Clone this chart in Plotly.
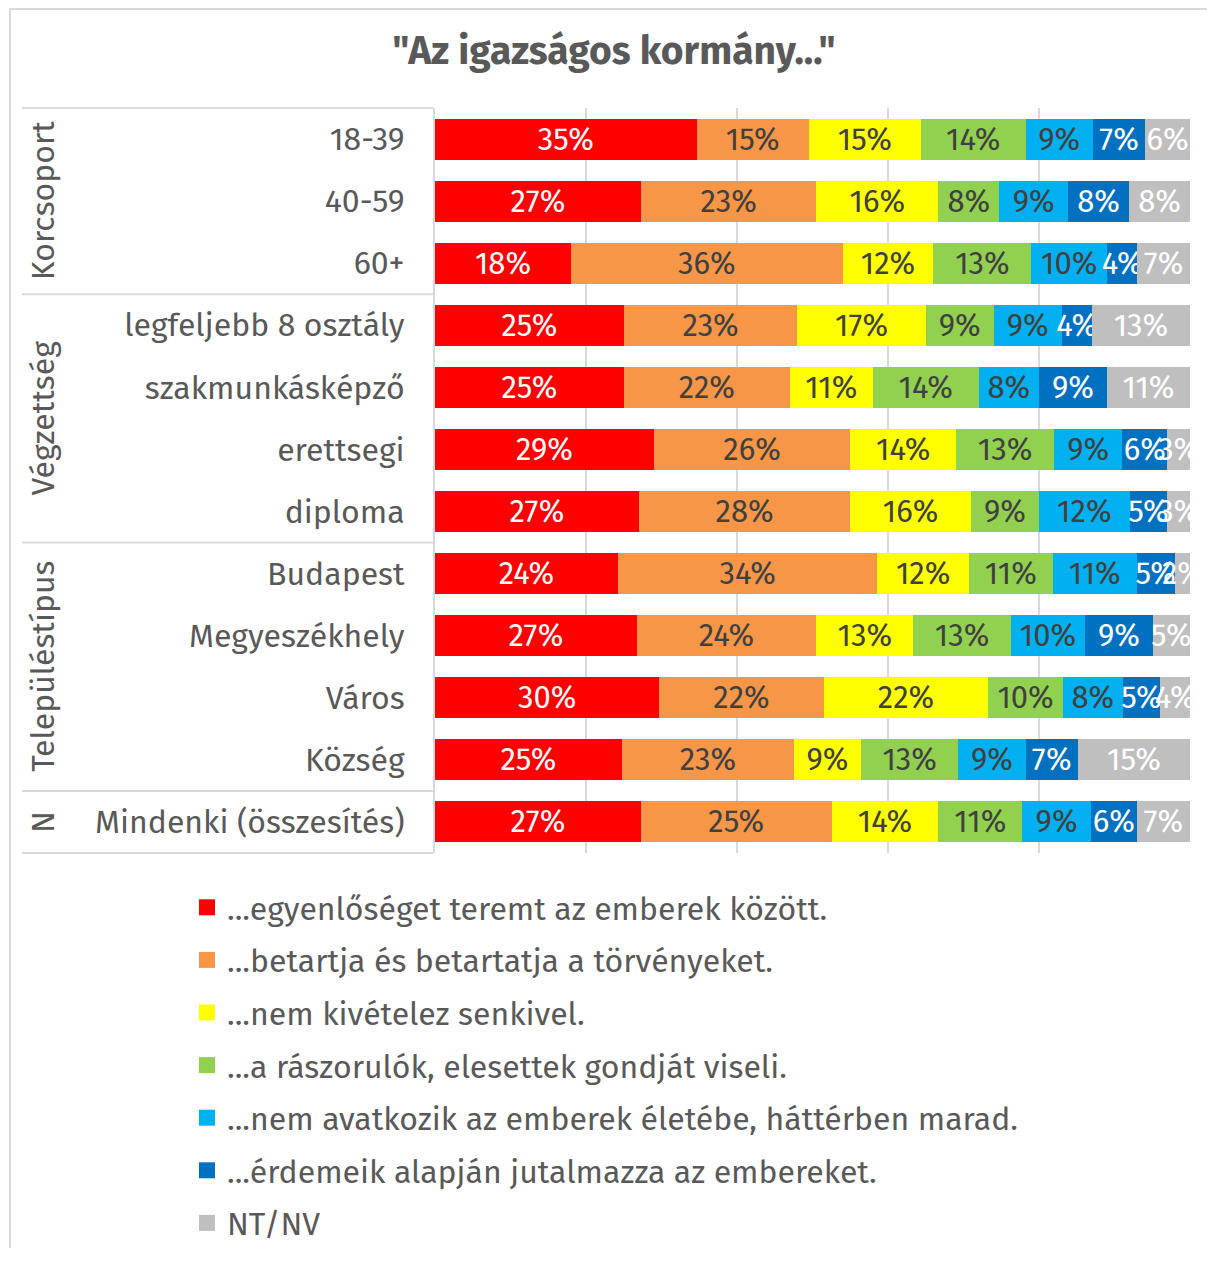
import plotly.graph_objects as go

categories = ["18-39", "40-59", "60+", "legfeljebb 8 osztály", "szakmunkásképző",
              "erettsegi", "diploma", "Budapest", "Megyeszékhely", "Város", "Község",
              "Mindenki (összesítés)"]
groups = ["Korcsoport", "Végzettség", "Településtípus", "N"]
group_sizes = [3, 4, 4, 1]

series_names = ["...egyenlőséget teremt az emberek között.",
                "...betartja és betartatja a törvényeket.",
                "...nem kivételez senkivel.",
                "...a rászorulók, elesettek gondját viseli.",
                "...nem avatkozik az emberek életébe, háttérben marad.",
                "...érdemeik alapján jutalmazza az embereket.",
                "NT/NV"]

s_egyenloseg = [35, 27, 18, 25, 25, 29, 27, 24, 27, 30, 25, 27]
s_torveny    = [15, 23, 36, 23, 22, 26, 28, 34, 24, 22, 23, 25]
s_kivetel    = [15, 16, 12, 17, 11, 14, 16, 12, 13, 22, 9, 14]
s_raszorulo  = [14, 8, 13, 9, 14, 13, 9, 11, 13, 10, 13, 11]
s_nemavatk   = [9, 9, 10, 9, 8, 9, 12, 11, 10, 8, 9, 9]
s_erdem      = [7, 8, 4, 4, 9, 6, 5, 5, 9, 5, 7, 6]
s_ntnv       = [6, 8, 7, 13, 11, 3, 3, 2, 5, 4, 15, 7]

series_values = [s_egyenloseg, s_torveny, s_kivetel, s_raszorulo, s_nemavatk, s_erdem, s_ntnv]
colors = ["#FF0000", "#F79646", "#FFFF00", "#92D050", "#00B0F0", "#0070C0", "#BFBFBF"]
text_colors = ["#FFFFFF", "#404040", "#404040", "#404040", "#404040", "#FFFFFF", "#FFFFFF"]

OFF = 8  # default page body margin
W, H = 1199, 1240
ML, MT = 427, 100
MR = W - (1190 - OFF)
MB = H - (853 - OFF)
PW = W - ML - MR
PH = H - MT - MB
FONT = "Fira Sans, Noto Sans, sans-serif"
GRID = "#D9D9D9"
LABEL = "#595959"

def px_to_paper_x(px):
    return (px - OFF - ML) / PW

def px_to_paper_y(py):
    return (H - MB - (py - OFF)) / PH

fig = go.Figure()
for name, vals, col, tc in zip(series_names, series_values, colors, text_colors):
    fig.add_trace(go.Bar(
        y=categories, x=vals, name=name, orientation="h",
        marker=dict(color=col, line=dict(width=0)),
        text=[f"{v}%" for v in vals], textposition="inside",
        insidetextanchor="middle", textangle=0, constraintext="none",
        textfont=dict(family=FONT, size=31, color=tc),
        legendgroup=name, showlegend=False, hoverinfo="skip",
    ))
# legend entries (larger square swatches)
for name, col in zip(series_names, colors):
    fig.add_trace(go.Scatter(
        x=[None], y=[None], mode="markers", name=name, legendgroup=name,
        marker=dict(symbol="square", size=18, color=col), hoverinfo="skip",
    ))

n = len(categories)
shapes = []
# outer chart border
shapes.append(dict(type="rect", xref="paper", yref="paper",
                   x0=px_to_paper_x(10), x1=px_to_paper_x(1260),
                   y0=px_to_paper_y(1300), y1=px_to_paper_y(9),
                   line=dict(color=GRID, width=2), fillcolor="rgba(0,0,0,0)", layer="below"))
# group separators
boundaries = [0]
for s in group_sizes:
    boundaries.append(boundaries[-1] + s)
for b in boundaries:
    yy = 1 - b / n
    shapes.append(dict(type="line", xref="paper", yref="paper",
                       x0=px_to_paper_x(22), x1=px_to_paper_x(433), y0=yy, y1=yy,
                       line=dict(color=GRID, width=2)))

annotations = []
for g, a, b in zip(groups, boundaries[:-1], boundaries[1:]):
    annotations.append(dict(text=g, xref="paper", yref="paper",
                            x=px_to_paper_x(43), y=1 - (a + b) / 2 / n,
                            textangle=-90, showarrow=False,
                            font=dict(family=FONT, size=32, color=LABEL),
                            xanchor="center", yanchor="middle"))

fig.update_layout(
    width=W, height=H,
    margin=dict(l=ML, r=MR, t=MT, b=MB, autoexpand=False),
    paper_bgcolor="white", plot_bgcolor="white",
    barmode="stack", barnorm="percent", bargap=0.34,
    title=dict(text='"Az igazságos kormány..."', x=(614 - OFF) / W, xanchor="center",
               xref="container", yref="container", y=1 - (50 - OFF) / H, yanchor="middle",
               font=dict(family=FONT, size=39, color=LABEL, weight="bold")),
    xaxis=dict(range=[0, 100], dtick=20, showgrid=True, gridcolor=GRID, gridwidth=2,
               showticklabels=False, zeroline=False, showline=False, fixedrange=True),
    yaxis=dict(autorange="reversed", showline=True, linecolor=GRID, linewidth=2,
               ticks="", ticklabelstandoff=22,
               tickfont=dict(family=FONT, size=32, color=LABEL)),
    legend=dict(orientation="v", traceorder="grouped", tracegroupgap=8,
                itemsizing="trace",
                xref="container", yref="container",
                x=(187 - OFF) / W, xanchor="left",
                y=1 - (880 - OFF) / H, yanchor="top",
                font=dict(family=FONT, size=32, color=LABEL)),
    shapes=shapes, annotations=annotations,
)

fig.write_html("out.html")
